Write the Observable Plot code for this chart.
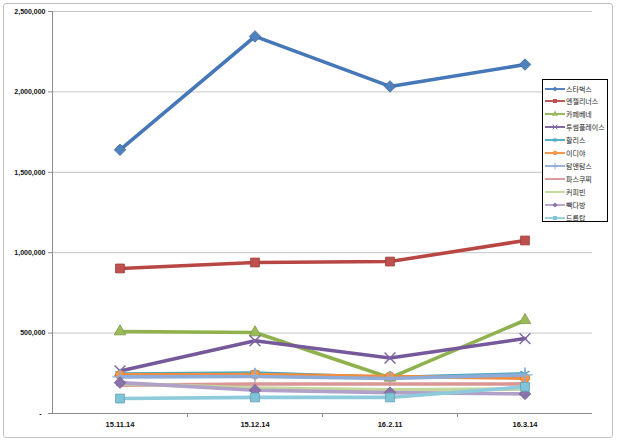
<!DOCTYPE html>
<html><head><meta charset="utf-8">
<script src="https://cdn.jsdelivr.net/npm/d3@7"></script>
<script src="https://cdn.jsdelivr.net/npm/@observablehq/plot@0.6"></script>
<style>
body{margin:0;background:#fff;}
#wrap{position:relative;width:620px;height:441px;overflow:hidden;font-family:"Liberation Sans",Arial,sans-serif;}
#wrap svg.plot{position:absolute;left:0;top:0;}
#border{position:absolute;left:3px;top:3px;width:608px;height:433px;border:1px solid #c3c3c3;border-radius:3px;}
#legend{position:absolute;left:542px;top:79px;width:64px;height:141px;border:1px solid #000;background:#fff;}
.li{position:absolute;left:2px;height:13px;display:flex;align-items:center;font-family:"Noto Sans CJK KR",sans-serif;font-size:7px;color:#222;white-space:nowrap;}
.li svg{margin-right:1px;}
</style></head><body><div id="wrap"><div id="border"></div></div>
<script>
// ---- data ----
const categories = ["15.11.14", "15.12.14", "16.2.11", "16.3.14"];
const brands = ["스타벅스", "엔젤리너스", "카페베네", "투썸플레이스", "할리스", "이디야", "탐앤탐스", "파스쿠찌", "커피빈", "빽다방", "드롭탑"];
const starbucks  = [1640000, 2345000, 2034000, 2170000];
const angelinus  = [902000, 939000, 945000, 1076000];
const caffebene  = [510000, 504000, 222000, 580000];
const twosome    = [265000, 452000, 345000, 466000];
const hollys     = [245000, 252000, 224000, 247000];
const ediya      = [240000, 243000, 230000, 220000];
const tomntoms   = [228000, 230000, 218000, 240000];
const pascucci   = [176000, 183000, 183000, 184000];
const coffeebean = [186000, 158000, 148000, 152000];
const paiks      = [192000, 145000, 130000, 122000];
const droptop    = [93000, 100000, 100000, 166000];
const yTicks = [0, 500000, 1000000, 1500000, 2000000, 2500000];

// ---- styles ----
const seriesValues = [starbucks, angelinus, caffebene, twosome, hollys, ediya, tomntoms, pascucci, coffeebean, paiks, droptop];
const lineColors   = ["#4677B8", "#B84744", "#8FB24F", "#75599A", "#45A7C2", "#F18D3C", "#8FACD8", "#D99694", "#C3D69B", "#B1A0C8", "#8DCBDC"];
const markerFills  = ["#4F81BD", "#C0504D", "#9BBB59", "#8064A2", "#4BACC6", "#F79646", "#8FACD8", "#D99694", "#C3D69B", "#8A72AC", "#7FC4D8"];
const markerKinds  = ["diamond", "square", "triangle", "times", "asterisk", "circle", "plus", "dash", "dash", "diamond", "square"];

const diamondSym = {draw(ctx, size){ const r = Math.sqrt(size/Math.PI)*1.15; ctx.moveTo(0,-r); ctx.lineTo(r,0); ctx.lineTo(0,r); ctx.lineTo(-r,0); ctx.closePath(); }};
const dashSym = {draw(ctx, size){ const r = Math.sqrt(size/Math.PI); ctx.moveTo(-r,0); ctx.lineTo(r,0); }};
const strokeKinds = new Set(["times","asterisk","plus","dash"]);
function symFor(k){ return k === "diamond" ? diamondSym : k === "dash" ? dashSym : k; }

const rows = [];
brands.forEach((b, s) => seriesValues[s].forEach((v, i) => rows.push({brand: b, s, i, v})));

const marks = [
  Plot.ruleY(yTicks.filter(t => t > 0), {stroke: "#c4c4c4", strokeWidth: 1}),
  Plot.axisY({ticks: yTicks, tickFormat: d => d === 0 ? "-\u00a0\u00a0" : d3.format(",")(d), tickSize: 4, tickPadding: 3, stroke: "#8c8c8c", fill: "#111", fontWeight: "bold", fontSize: 7, label: null}),
  Plot.axisX({ticks: [0.5, 1.5, 2.5], tickSize: 4, tickFormat: () => "", stroke: "#8c8c8c", label: null}),
  Plot.axisX({ticks: [0, 1, 2, 3], tickSize: 0, tickPadding: 8, tickFormat: i => categories[i], fill: "#111", fontWeight: "bold", fontSize: 7.5, label: null}),
  Plot.ruleY([0], {stroke: "#8c8c8c"}),
  Plot.ruleX([-0.5], {stroke: "#8c8c8c"})
];
brands.forEach((b, s) => {
  const d = rows.filter(r => r.s === s);
  marks.push(Plot.line(d, {x: "i", y: "v", stroke: lineColors[s], strokeWidth: 3.6, strokeLinejoin: "round", strokeLinecap: "round"}));
  const k = markerKinds[s];
  if (strokeKinds.has(k)) {
    marks.push(Plot.dot(d, {x: "i", y: "v", symbol: symFor(k), r: k === "dash" ? 4 : 5, stroke: markerFills[s], strokeWidth: 1.4, fill: "none"}));
  } else {
    marks.push(Plot.dot(d, {x: "i", y: "v", symbol: symFor(k), r: k === "triangle" ? 4.3 : k === "circle" ? 4.6 : 5, fill: markerFills[s], stroke: d3.color(markerFills[s]).darker(0.6).formatHex(), strokeWidth: 0.8}));
  }
});

const plot = Plot.plot({
  width: 620, height: 441,
  marginLeft: 52, marginRight: 28, marginTop: 11, marginBottom: 28,
  style: {fontFamily: "'Liberation Sans', Arial, sans-serif", background: "transparent", overflow: "visible"},
  x: {domain: [-0.5, 3.5], axis: null},
  y: {domain: [0, 2500000], axis: null},
  marks
});
plot.classList.add("plot");
const wrap = document.getElementById("wrap");
wrap.appendChild(plot);

// ---- legend ----
const legend = document.createElement("div");
legend.id = "legend";
wrap.appendChild(legend);
brands.forEach((b, s) => {
  const row = document.createElement("div");
  row.className = "li";
  row.style.top = (2 + s * 12.9) + "px";
  const sv = d3.create("svg").attr("width", 20).attr("height", 10);
  sv.append("line").attr("x1", 0).attr("x2", 20).attr("y1", 5).attr("y2", 5).attr("stroke", lineColors[s]).attr("stroke-width", 1.8);
  const k = markerKinds[s];
  const typ = {diamond: diamondSym, square: d3.symbolSquare, triangle: d3.symbolTriangle, times: d3.symbolTimes, asterisk: d3.symbolAsterisk, circle: d3.symbolCircle, plus: d3.symbolPlus, dash: dashSym}[k];
  const path = sv.append("path").attr("transform", "translate(10,5)").attr("d", d3.symbol(typ, 16)());
  if (strokeKinds.has(k)) path.attr("fill", "none").attr("stroke", markerFills[s]).attr("stroke-width", 1);
  else path.attr("fill", markerFills[s]);
  row.appendChild(sv.node());
  const t = document.createElement("span");
  t.textContent = b;
  row.appendChild(t);
  legend.appendChild(row);
});
</script></body></html>
